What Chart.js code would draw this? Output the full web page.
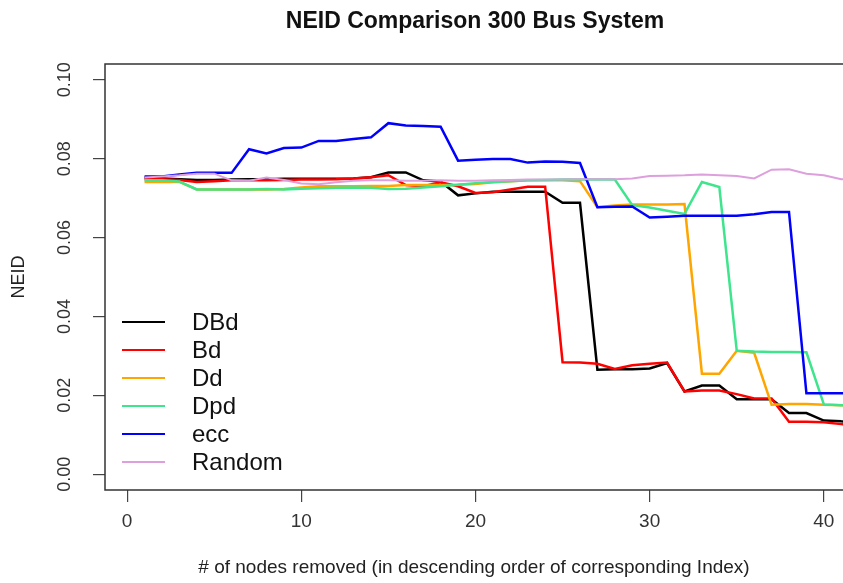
<!DOCTYPE html>
<html>
<head>
<meta charset="utf-8">
<title>NEID Comparison 300 Bus System</title>
<script src="https://cdn.jsdelivr.net/npm/chart.js@4.4.1/dist/chart.umd.min.js"></script>
<style>
  html, body { margin: 0; padding: 0; background: #fff; }
</style>
</head>
<body>
<canvas id="chart" width="843" height="583"></canvas>
<script>
// nodes removed (x) and NEID after each removal
const nodesRemoved = [1, 2, 3, 4, 5, 6, 7, 8, 9, 10, 11, 12, 13, 14, 15, 16, 17, 18, 19, 20, 21,
  22, 23, 24, 25, 26, 27, 28, 29, 30, 31, 32, 33, 34, 35, 36, 37, 38, 39, 40, 41, 42];

const dbd = [0.0752, 0.0750, 0.0748, 0.0746, 0.0746, 0.0747, 0.0748, 0.0748, 0.0749, 0.0749, 0.0749,
  0.0749, 0.0750, 0.0753, 0.0765, 0.0765, 0.0745, 0.0742, 0.0707, 0.0712, 0.0716, 0.0716, 0.0716,
  0.0716, 0.0688, 0.0688, 0.0265, 0.0266, 0.0266, 0.0268, 0.0282, 0.0210, 0.0225, 0.0225, 0.0190,
  0.0190, 0.0190, 0.0155, 0.0155, 0.0136, 0.0134, 0.0133];
const bd = [0.0748, 0.0748, 0.0746, 0.0741, 0.0743, 0.0745, 0.0745, 0.0745, 0.0746, 0.0747, 0.0747,
  0.0748, 0.0750, 0.0753, 0.0758, 0.0733, 0.0730, 0.0740, 0.0730, 0.0713, 0.0715, 0.0722, 0.0729,
  0.0729, 0.0284, 0.0283, 0.0280, 0.0267, 0.0276, 0.0280, 0.0283, 0.0210, 0.0212, 0.0212, 0.0203,
  0.0192, 0.0192, 0.0133, 0.0133, 0.0132, 0.0127, 0.0125];
const dd = [0.0741, 0.0741, 0.0741, 0.0722, 0.0722, 0.0722, 0.0722, 0.0722, 0.0723, 0.0727, 0.0730,
  0.0730, 0.0730, 0.0731, 0.0731, 0.0733, 0.0733, 0.0733, 0.0734, 0.0736, 0.0740, 0.0743, 0.0745,
  0.0745, 0.0745, 0.0743, 0.0677, 0.0681, 0.0684, 0.0684, 0.0684, 0.0685, 0.0255, 0.0255, 0.0313,
  0.0308, 0.0176, 0.0178, 0.0178, 0.0176, 0.0175, 0.0174];
const dpd = [0.0745, 0.0745, 0.0742, 0.0722, 0.0722, 0.0722, 0.0722, 0.0723, 0.0722, 0.0724, 0.0725,
  0.0726, 0.0727, 0.0726, 0.0723, 0.0724, 0.0727, 0.0730, 0.0734, 0.0738, 0.0741, 0.0743, 0.0745,
  0.0746, 0.0747, 0.0747, 0.0747, 0.0747, 0.0682, 0.0676, 0.0668, 0.0660, 0.0741, 0.0728, 0.0313,
  0.0311, 0.0310, 0.0310, 0.0309, 0.0177, 0.0175, 0.0173];
const ecc = [0.0755, 0.0755, 0.0760, 0.0764, 0.0764, 0.0764, 0.0824, 0.0813, 0.0827, 0.0828, 0.0845,
  0.0845, 0.0850, 0.0854, 0.0890, 0.0884, 0.0883, 0.0881, 0.0795, 0.0797, 0.0799, 0.0799, 0.0790,
  0.0793, 0.0792, 0.0789, 0.0677, 0.0678, 0.0679, 0.0651, 0.0653, 0.0655, 0.0655, 0.0655, 0.0655,
  0.0659, 0.0665, 0.0665, 0.0205, 0.0205, 0.0205, 0.0205];
const random = [0.0752, 0.0755, 0.0758, 0.0762, 0.0762, 0.0745, 0.0744, 0.0752, 0.0746, 0.0737, 0.0735,
  0.0740, 0.0744, 0.0745, 0.0745, 0.0744, 0.0744, 0.0745, 0.0744, 0.0744, 0.0745, 0.0746, 0.0747,
  0.0747, 0.0747, 0.0748, 0.0748, 0.0748, 0.0750, 0.0756, 0.0757, 0.0758, 0.0760, 0.0758, 0.0756,
  0.0750, 0.0772, 0.0773, 0.0762, 0.0758, 0.0748, 0.0745];

const seriesNames = ["DBd", "Bd", "Dd", "Dpd", "ecc", "Random"];
const seriesColors = ["#000000", "#ff0000", "#ffa500", "#3fe58c", "#0000ff", "#dda0dd"];
const xTicks = [0, 10, 20, 30, 40];
const yTicks = [0, 0.02, 0.04, 0.06, 0.08, 0.10];

const FONT = '"Liberation Sans", Arial, sans-serif';

function points(values) {
  return values.map((v, i) => ({ x: nodesRemoved[i], y: v }));
}

// box, turned y labels, title and legend the way R draws them
const rStyle = {
  id: "rStyle",
  afterDraw(chart) {
    const { ctx, chartArea: a } = chart;
    const y = chart.scales.y;
    ctx.save();
    ctx.strokeStyle = "#333";
    ctx.lineWidth = 1.5;
    ctx.beginPath();
    ctx.moveTo(chart.width + 5, a.top);
    ctx.lineTo(a.left, a.top);
    ctx.lineTo(a.left, a.bottom);
    ctx.lineTo(chart.width + 5, a.bottom);
    ctx.stroke();

    ctx.fillStyle = "#333";
    ctx.font = "18px " + FONT;
    ctx.textAlign = "center";
    ctx.textBaseline = "middle";
    yTicks.forEach(v => {
      ctx.save();
      ctx.translate(65, y.getPixelForValue(v));
      ctx.rotate(-Math.PI / 2);
      ctx.fillText(v.toFixed(2), 0, 0);
      ctx.restore();
    });

    ctx.fillStyle = "#111";
    ctx.font = "bold 23px " + FONT;
    ctx.fillText("NEID Comparison 300 Bus System", 475, 22);

    // legend, no box
    ctx.font = "24px " + FONT;
    ctx.textAlign = "left";
    chart.data.datasets.forEach((ds, i) => {
      const ly = 322 + i * 28;
      ctx.strokeStyle = ds.borderColor;
      ctx.lineWidth = 2;
      ctx.beginPath();
      ctx.moveTo(122, ly);
      ctx.lineTo(165, ly);
      ctx.stroke();
      ctx.fillStyle = "#111";
      ctx.fillText(ds.label, 192, ly + 1);
    });
    ctx.restore();
  }
};

new Chart(document.getElementById("chart"), {
  type: "line",
  data: {
    datasets: [dbd, bd, dd, dpd, ecc, random].map((vals, i) => ({
      label: seriesNames[i],
      data: points(vals),
      borderColor: seriesColors[i],
      backgroundColor: seriesColors[i],
      borderWidth: i === 5 ? 2 : 2.5,
      pointRadius: 0,
      tension: 0,
      clip: false,
      order: 6 - i
    }))
  },
  options: {
    responsive: false,
    animation: false,
    layout: { padding: { top: 64, right: 0, left: 0, bottom: 0 } },
    plugins: {
      legend: { display: false },
      tooltip: { enabled: false }
    },
    scales: {
      x: {
        type: "linear",
        min: -1.27,
        max: 41.1,
        afterBuildTicks: s => { s.ticks = xTicks.map(v => ({ value: v })); },
        afterFit: s => { s.height = 93; },
        grid: { drawOnChartArea: false, drawTicks: true, tickLength: 12, color: "#444", lineWidth: 1.2 },
        border: { display: false },
        ticks: { color: "#333", font: { size: 19, family: FONT }, padding: 8, maxRotation: 0 },
        title: {
          display: true,
          text: "# of nodes removed (in descending order of corresponding Index)",
          color: "#222",
          font: { size: 19, family: FONT },
          padding: { top: 0, bottom: 4 }
        }
      },
      y: {
        min: -0.004,
        max: 0.104,
        afterBuildTicks: s => { s.ticks = yTicks.map(v => ({ value: v })); },
        afterFit: s => { s.width = 105; },
        grid: { drawOnChartArea: false, drawTicks: true, tickLength: 12, color: "#444", lineWidth: 1.2 },
        border: { display: false },
        ticks: { display: false },
        title: {
          display: true,
          text: "NEID",
          color: "#222",
          font: { size: 18, family: FONT },
          padding: { top: 8, bottom: 0 }
        }
      }
    }
  },
  plugins: [rStyle]
});
</script>
</body>
</html>
